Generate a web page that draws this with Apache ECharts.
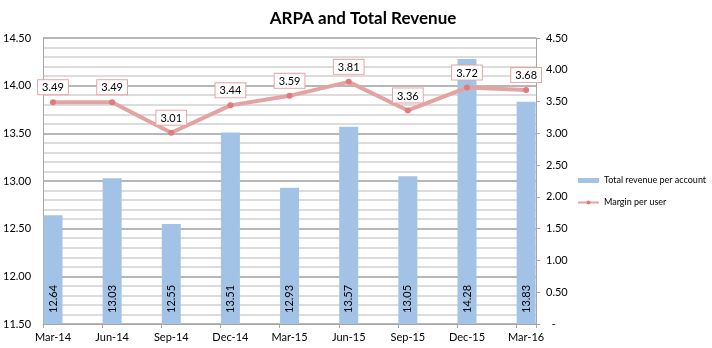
<!DOCTYPE html>
<html>
<head>
<meta charset="utf-8">
<script src="https://cdn.jsdelivr.net/npm/echarts@6/dist/echarts.min.js"></script>
<style>
  html, body { margin: 0; padding: 0; background: #fff; }
  #chart { width: 712px; height: 348px; }
</style>
</head>
<body>
<div id="chart"></div>
<script>
// Quarter-end labels and the two series
const quarters = ['Mar-14', 'Jun-14', 'Sep-14', 'Dec-14', 'Mar-15', 'Jun-15', 'Sep-15', 'Dec-15', 'Mar-16'];
const revenuePerAccount = [12.64, 13.03, 12.55, 13.51, 12.93, 13.57, 13.05, 14.28, 13.83];
const marginPerUser = [3.49, 3.49, 3.01, 3.44, 3.59, 3.81, 3.36, 3.72, 3.68];

// Left (revenue) and right (margin) axis ticks
const leftTicks = [11.5, 12.0, 12.5, 13.0, 13.5, 14.0, 14.5];
const rightTicks = [0, 0.5, 1.0, 1.5, 2.0, 2.5, 3.0, 3.5, 4.0, 4.5];

// The axis runs month by month; each quarter owns one monthly slot,
// followed by two empty months before the next quarter.
const MONTHS_PER_QUARTER = 3;
const slots = [];
const barData = [];
const lineData = [];
quarters.forEach((q, i) => {
  slots.push(q);
  barData.push(revenuePerAccount[i]);
  lineData.push(marginPerUser[i]);
  if (i < quarters.length - 1) {
    for (let k = 1; k < MONTHS_PER_QUARTER; k++) {
      slots.push(q + '+' + k);
      barData.push(null);
      lineData.push(null);
    }
  }
});

const FONT = 'Lato, "Open Sans", sans-serif';
const chart = echarts.init(document.getElementById('chart'));

chart.setOption({
  backgroundColor: '#ffffff',
  animation: false,
  textStyle: { fontFamily: FONT },
  title: {
    text: 'ARPA and Total Revenue',
    left: 358,
    textAlign: 'center',
    top: 5,
    textStyle: { fontFamily: FONT, fontSize: 17, fontWeight: 'bold', color: '#000' }
  },
  legend: {
    orient: 'vertical',
    left: 572,
    top: 171,
    itemWidth: 21,
    itemHeight: 5,
    itemGap: 13,
    textStyle: { fontFamily: FONT, fontSize: 9, color: '#000' },
    data: [
      { name: 'Total revenue per account', icon: 'rect' },
      { name: 'Margin per user' }
    ]
  },
  grid: { left: 39.5, right: 176, top: 38, bottom: 24, containLabel: false },
  xAxis: {
    type: 'category',
    data: slots,
    boundaryGap: true,
    axisLine: { lineStyle: { color: '#a6a6a6', width: 1 } },
    axisTick: { show: true, interval: MONTHS_PER_QUARTER - 1, length: 4, lineStyle: { color: '#a6a6a6' } },
    axisLabel: {
      interval: MONTHS_PER_QUARTER - 1,
      color: '#000',
      fontSize: 11,
      margin: 8,
      fontFamily: FONT
    },
    splitLine: { show: false }
  },
  yAxis: [
    {
      type: 'value',
      min: leftTicks[0],
      max: leftTicks[leftTicks.length - 1],
      interval: 0.5,
      axisLine: { show: true, lineStyle: { color: '#a6a6a6' } },
      axisTick: { show: false },
      axisLabel: {
        color: '#000',
        fontSize: 11,
        margin: 12,
        fontFamily: FONT,
        formatter: v => v.toFixed(2)
      },
      splitLine: { show: true, lineStyle: { color: '#b7b7b7', width: 2 } },
      minorTick: { show: false, splitNumber: 5 },
      minorSplitLine: { show: true, lineStyle: { color: '#dcdcdc', width: 2 } }
    },
    {
      type: 'value',
      min: rightTicks[0],
      max: rightTicks[rightTicks.length - 1],
      interval: 0.5,
      position: 'right',
      axisLine: { show: true, lineStyle: { color: '#a6a6a6' } },
      axisTick: { show: true, length: 4, lineStyle: { color: '#a6a6a6' } },
      axisLabel: {
        color: '#000',
        fontSize: 11,
        margin: 10,
        fontFamily: FONT,
        formatter: v => (v === 0 ? '  -' : v.toFixed(2))
      },
      splitLine: { show: false }
    }
  ],
  series: [
    {
      name: 'Total revenue per account',
      type: 'bar',
      yAxisIndex: 0,
      data: barData,
      barWidth: 19,
      itemStyle: { color: '#a3c3e6' },
      label: {
        show: true,
        position: 'insideBottom',
        rotate: 90,
        align: 'left',
        verticalAlign: 'middle',
        distance: 11,
        fontSize: 11,
        color: '#000',
        fontFamily: FONT,
        formatter: p => p.value.toFixed(2)
      },
      z: 2
    },
    {
      name: 'Margin per user',
      type: 'line',
      yAxisIndex: 1,
      data: lineData,
      connectNulls: true,
      symbol: 'circle',
      symbolSize: 6,
      lineStyle: { color: '#e3a3a2', width: 4 },
      itemStyle: { color: '#dc7c7b' },
      label: {
        show: true,
        position: 'top',
        distance: 5,
        fontSize: 11,
        color: '#000',
        fontFamily: FONT,
        backgroundColor: '#ffffff',
        borderColor: '#e8a3a3',
        borderWidth: 1,
        padding: [2, 4, 1, 4],
        formatter: p => p.value.toFixed(2)
      },
      z: 3
    }
  ]
});
</script>
</body>
</html>
